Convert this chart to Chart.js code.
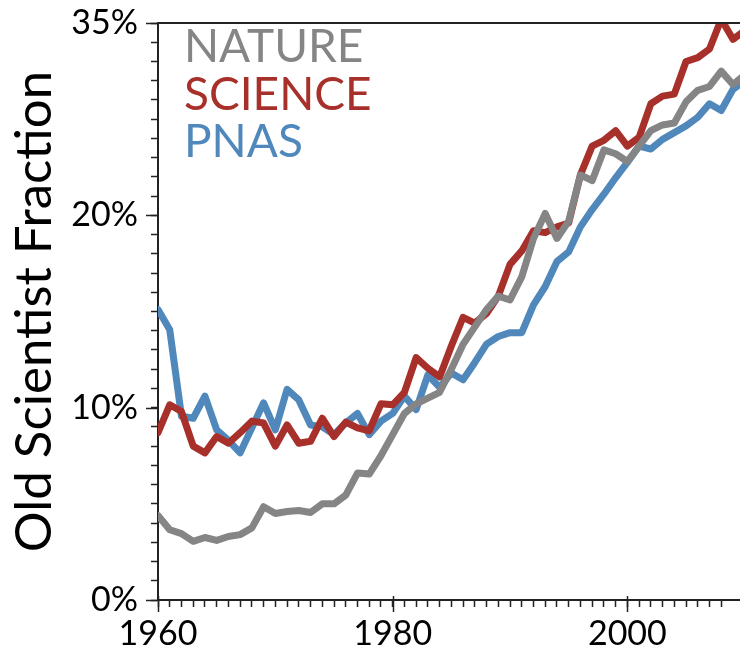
<!DOCTYPE html>
<html>
<head>
<meta charset="utf-8">
<script src="https://cdn.jsdelivr.net/npm/chart.js@4/dist/chart.umd.min.js"></script>
<style>
    html, body { margin: 0; padding: 0; background: #fff; }
    .chart-box { width: 740px; height: 651px; position: relative; }
</style>
</head>
<body>
<div class="chart-box"><canvas id="oldChart"></canvas></div>
<script>
// Years on the x axis (one point per year)
const years = [1960, 1961, 1962, 1963, 1964, 1965, 1966, 1967, 1968, 1969,
               1970, 1971, 1972, 1973, 1974, 1975, 1976, 1977, 1978, 1979,
               1980, 1981, 1982, 1983, 1984, 1985, 1986, 1987, 1988, 1989,
               1990, 1991, 1992, 1993, 1994, 1995, 1996, 1997, 1998, 1999,
               2000, 2001, 2002, 2003, 2004, 2005, 2006, 2007, 2008, 2009, 2010];

// Old scientist fraction, percent
const nature = [4.4, 3.65, 3.45, 3.05, 3.25, 3.1, 3.3, 3.4, 3.75, 4.85,
                4.5, 4.6, 4.65, 4.55, 5.0, 5.0, 5.45, 6.6, 6.55, 7.5,
                8.6, 9.7, 10.2, 10.5, 10.8, 12.0, 13.3, 14.2, 15.1, 15.8,
                15.6, 16.8, 18.8, 20.1, 18.8, 19.7, 22.1, 21.8, 23.4, 23.2,
                22.8, 23.6, 24.4, 24.7, 24.8, 25.9, 26.5, 26.7, 27.5, 26.8, 27.3];
const science = [8.7, 10.15, 9.8, 8.0, 7.65, 8.5, 8.15, 8.7, 9.3, 9.2,
                 8.0, 9.1, 8.15, 8.25, 9.45, 8.5, 9.25, 8.95, 8.8, 10.2,
                 10.15, 10.8, 12.6, 12.05, 11.6, 13.2, 14.7, 14.4, 14.9, 15.8,
                 17.45, 18.15, 19.2, 19.1, 19.4, 19.6, 22.1, 23.6, 23.9, 24.4,
                 23.6, 24.05, 25.8, 26.2, 26.3, 28.0, 28.2, 28.65, 30.2, 29.15, 29.6];
const pnas = [15.1, 14.05, 9.55, 9.45, 10.6, 8.85, 8.3, 7.65, 8.95, 10.25,
              8.85, 10.95, 10.4, 9.1, 9.0, 8.6, 9.2, 9.7, 8.6, 9.3,
              9.7, 10.6, 9.9, 11.7, 11.05, 11.8, 11.45, 12.35, 13.3, 13.7,
              13.9, 13.9, 15.35, 16.3, 17.6, 18.1, 19.4, 20.3, 21.1, 21.95,
              22.75, 23.6, 23.45, 23.95, 24.3, 24.65, 25.1, 25.8, 25.45, 26.55, 27.0];

const seriesNames = ['NATURE', 'SCIENCE', 'PNAS'];

// Tick labels as printed on the original figure
const yTickValues = [0, 10, 20, 30];
const yTickLabels = ['0%', '10%', '20%', '35%'];
const xTickValues = [1960, 1980, 2000];
const xTickLabels = ['1960', '1980', '2000'];

const colors = ['#858585', '#a8302a', '#5088bb'];
const font = 'Lato';

function toPoints(values) {
    return years.map(function(y, i) { return { x: y, y: values[i] }; });
}

// Draws the coloured series names, the top frame line and the longer major ticks
const frameAndNames = {
    id: 'frameAndNames',
    afterDraw(chart) {
        const ctx = chart.ctx;
        const area = chart.chartArea;
        const xs = chart.scales.x;
        const ys = chart.scales.y;
        ctx.save();
        ctx.strokeStyle = '#222';
        ctx.lineWidth = 2;
        ctx.beginPath();
        ctx.moveTo(area.left - 1, area.top);
        ctx.lineTo(area.right, area.top);
        ctx.stroke();

        ctx.lineWidth = 1.5;
        yTickValues.forEach(function(v) {
            const py = Math.round(ys.getPixelForValue(v)) + 0.5;
            ctx.beginPath();
            ctx.moveTo(area.left - 12, py);
            ctx.lineTo(area.left, py);
            ctx.stroke();
        });
        xTickValues.forEach(function(v) {
            const px = Math.round(xs.getPixelForValue(v)) + 0.5;
            ctx.beginPath();
            ctx.moveTo(px, area.bottom - 4);
            ctx.lineTo(px, area.bottom + 12);
            ctx.stroke();
        });

        ctx.font = '46px ' + font;
        ctx.textAlign = 'left';
        ctx.textBaseline = 'alphabetic';
        chart.data.datasets.forEach(function(ds, i) {
            ctx.fillStyle = ds.borderColor;
            ctx.fillText(ds.label, area.left + 26, area.top + 39 + i * 47.5);
        });
        ctx.restore();
    }
};

const ctx = document.getElementById('oldChart').getContext('2d');
const oldChart = new Chart(ctx, {
    type: 'line',
    data: {
        datasets: [nature, science, pnas].map(function(values, i) {
            return {
                label: seriesNames[i],
                data: toPoints(values),
                borderColor: colors[i],
                borderWidth: 7,
                borderJoinStyle: 'round',
                borderCapStyle: 'round',
                pointRadius: 0,
                tension: 0,
                fill: false
            };
        })
    },
    options: {
        responsive: true,
        maintainAspectRatio: false,
        animation: false,
        layout: { padding: { top: 23, right: 0, left: 0, bottom: 0 } },
        plugins: {
            legend: { display: false },
            tooltip: { enabled: false }
        },
        scales: {
            x: {
                type: 'linear',
                min: 1960,
                max: 2009.6,
                afterBuildTicks: function(scale) {
                    scale.ticks = scale.ticks.filter(function(t) { return Number.isInteger(t.value); });
                },
                afterFit: function(scale) {
                    scale.height = 51;
                    scale.paddingLeft = 0;
                    scale.paddingRight = 0;
                },
                grid: { drawOnChartArea: false, tickLength: 7, tickColor: '#222', tickWidth: 1.5 },
                border: { display: true, color: '#222', width: 2 },
                ticks: {
                    stepSize: 1,
                    autoSkip: false,
                    maxRotation: 0,
                    padding: 7,
                    color: '#000',
                    font: { family: font, size: 34 },
                    callback: function(value) {
                        const k = xTickValues.indexOf(value);
                        return k >= 0 ? xTickLabels[k] : '';
                    }
                }
            },
            y: {
                min: 0,
                max: 30,
                afterFit: function(scale) {
                    scale.width = 158;
                    scale.paddingTop = 0;
                    scale.paddingBottom = 0;
                },
                grid: { drawOnChartArea: false, tickLength: 7, tickColor: '#222', tickWidth: 1.5 },
                border: { display: true, color: '#222', width: 2 },
                title: {
                    display: true,
                    text: 'Old Scientist Fraction',
                    color: '#000',
                    font: { family: font, size: 51 },
                    padding: { top: 4, bottom: 0 }
                },
                ticks: {
                    stepSize: 1,
                    autoSkip: false,
                    padding: 13,
                    color: '#000',
                    font: { family: font, size: 34 },
                    callback: function(value) {
                        const k = yTickValues.indexOf(value);
                        return k >= 0 ? yTickLabels[k] : '';
                    }
                }
            }
        }
    },
    plugins: [frameAndNames]
});
</script>
</body>
</html>
